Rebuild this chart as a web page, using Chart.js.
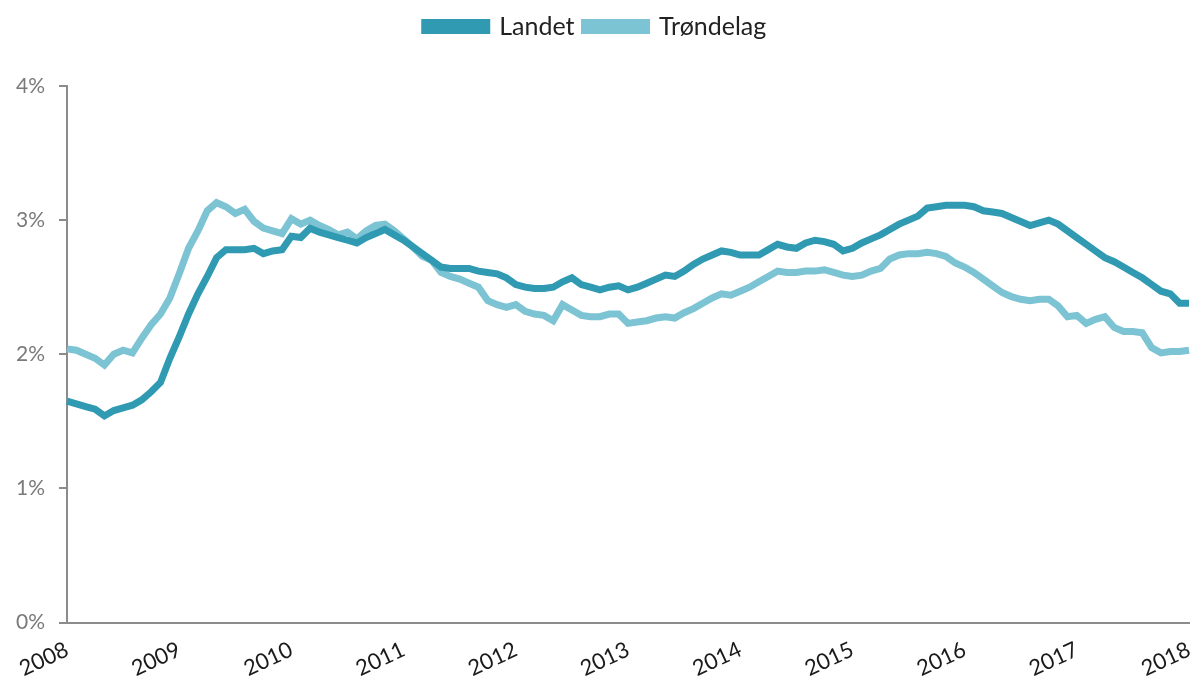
<!DOCTYPE html>
<html>
<head>
<meta charset="utf-8">
<script src="https://cdn.jsdelivr.net/npm/chart.js@4"></script>
<style>
  html, body { margin: 0; padding: 0; background: #fff; }
  #wrap { width: 1192px; height: 690px; }
</style>
</head>
<body>
<div id="wrap"><canvas id="chart"></canvas></div>
<script>
// months Jan 2008 .. Jan 2018
var years = [2008, 2009, 2010, 2011, 2012, 2013, 2014, 2015, 2016, 2017, 2018];
var months = [];
years.forEach(function(y){
  for (var m = 1; m <= 12; m++) {
    if (y === 2018 && m > 1) break;
    months.push(y + '-' + (m < 10 ? '0' + m : m));
  }
});

var landet = [
  1.65, 1.63, 1.61, 1.59, 1.54, 1.58, 1.60, 1.62, 1.66, 1.72, 1.79, 1.97,
  2.13, 2.30, 2.45, 2.58, 2.72, 2.78, 2.78, 2.78, 2.79, 2.75, 2.77, 2.78,
  2.88, 2.87, 2.94, 2.91, 2.89, 2.87, 2.85, 2.83, 2.87, 2.90, 2.93, 2.89,
  2.85, 2.80, 2.75, 2.70, 2.65, 2.64, 2.64, 2.64, 2.62, 2.61, 2.60, 2.57,
  2.52, 2.50, 2.49, 2.49, 2.50, 2.54, 2.57, 2.52, 2.50, 2.48, 2.50, 2.51,
  2.48, 2.50, 2.53, 2.56, 2.59, 2.58, 2.62, 2.67, 2.71, 2.74, 2.77, 2.76,
  2.74, 2.74, 2.74, 2.78, 2.82, 2.80, 2.79, 2.83, 2.85, 2.84, 2.82, 2.77,
  2.79, 2.83, 2.86, 2.89, 2.93, 2.97, 3.00, 3.03, 3.09, 3.10, 3.11, 3.11,
  3.11, 3.10, 3.07, 3.06, 3.05, 3.02, 2.99, 2.96, 2.98, 3.00, 2.97, 2.92,
  2.87, 2.82, 2.77, 2.72, 2.69, 2.65, 2.61, 2.57, 2.52, 2.47, 2.45, 2.38,
  2.38
];

var trondelag = [
  2.04, 2.03, 2.00, 1.97, 1.92, 2.00, 2.03, 2.01, 2.12, 2.22, 2.30, 2.42,
  2.60, 2.79, 2.92, 3.07, 3.13, 3.10, 3.05, 3.08, 2.99, 2.94, 2.92, 2.90,
  3.01, 2.97, 3.00, 2.96, 2.93, 2.89, 2.91, 2.86, 2.92, 2.96, 2.97, 2.92,
  2.86, 2.80, 2.73, 2.70, 2.61, 2.58, 2.56, 2.53, 2.50, 2.40, 2.37, 2.35,
  2.37, 2.32, 2.30, 2.29, 2.25, 2.37, 2.33, 2.29, 2.28, 2.28, 2.30, 2.30,
  2.23, 2.24, 2.25, 2.27, 2.28, 2.27, 2.31, 2.34, 2.38, 2.42, 2.45, 2.44,
  2.47, 2.50, 2.54, 2.58, 2.62, 2.61, 2.61, 2.62, 2.62, 2.63, 2.61, 2.59,
  2.58, 2.59, 2.62, 2.64, 2.71, 2.74, 2.75, 2.75, 2.76, 2.75, 2.73, 2.68,
  2.65, 2.61, 2.56, 2.51, 2.46, 2.43, 2.41, 2.40, 2.41, 2.41, 2.36, 2.28,
  2.29, 2.23, 2.26, 2.28, 2.20, 2.17, 2.17, 2.16, 2.05, 2.01, 2.02, 2.02,
  2.03
];

var yTicks = [0, 1, 2, 3, 4];

var dark = '#2f9ab1';
var light = '#7cc3d3';
var axisGray = '#8c8c8c';

Chart.defaults.font.family = 'Lato, "Open Sans", sans-serif';

// extra room under the legend
var legendGap = {
  id: 'legendGap',
  beforeInit: function(chart){
    var fit = chart.legend.fit;
    chart.legend.fit = function(){
      fit.bind(chart.legend)();
      this.height += 37;
    };
  }
};

var ctx = document.getElementById('chart').getContext('2d');
window.line = new Chart(ctx, {
  type: 'line',
  data: {
    labels: months,
    datasets: [{
      label: 'Landet',
      data: landet,
      borderColor: dark,
      backgroundColor: dark,
      borderWidth: 7,
      pointRadius: 0,
      tension: 0
    },
    {
      label: 'Trøndelag',
      data: trondelag,
      borderColor: light,
      backgroundColor: light,
      borderWidth: 7,
      pointRadius: 0,
      tension: 0
    }]
  },
  options: {
    responsive: true,
    maintainAspectRatio: false,
    animation: false,
    layout: { padding: { left: 2, right: 3, top: 4, bottom: 2 } },
    plugins: {
      legend: {
        position: 'top',
        labels: {
          color: '#222',
          font: { size: 25 },
          boxWidth: 62,
          boxHeight: 8,
          padding: 10
        }
      },
      tooltip: { enabled: false }
    },
    scales: {
      x: {
        grid: { display: false },
        border: { display: true, color: axisGray, width: 2 },
        afterFit: function(s){ s.paddingRight = 0; },
        ticks: {
          autoSkip: false,
          maxRotation: 25,
          minRotation: 25,
          color: '#1a1a1a',
          font: { size: 22 },
          padding: 6,
          callback: function(val, i){
            return i % 12 === 0 ? years[i / 12] : '';
          }
        }
      },
      y: {
        min: yTicks[0],
        max: yTicks[yTicks.length - 1],
        grid: { drawOnChartArea: false, drawTicks: true, tickLength: 8, color: axisGray, lineWidth: 2 },
        border: { display: true, color: axisGray, width: 2 },
        ticks: {
          stepSize: 1,
          color: '#7a7a7a',
          font: { size: 21 },
          padding: 14,
          callback: function(v){ return v + '%'; }
        }
      }
    }
  },
  plugins: [legendGap]
});
</script>
</body>
</html>
